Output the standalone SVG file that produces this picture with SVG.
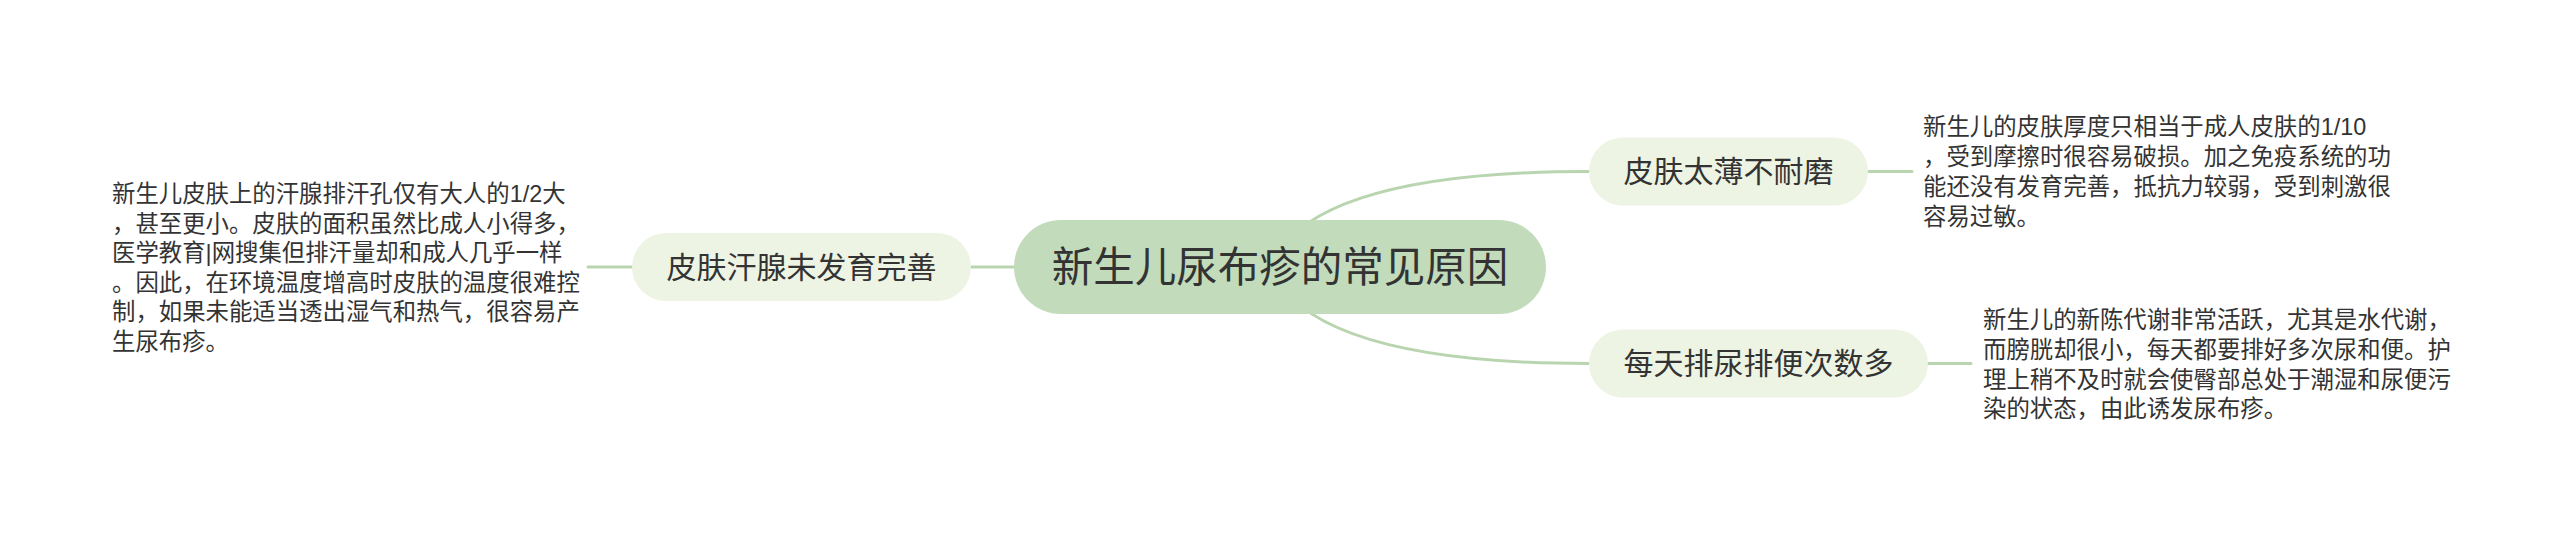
<svg xmlns="http://www.w3.org/2000/svg" width="2560" height="535" viewBox="0 0 2560 535">
<style>
.bg{fill:#ffffff}
.conn{fill:none;stroke:#b9d5b0;stroke-width:3;stroke-linecap:round}
.root{fill:#c1dbbb}
.sub{fill:#eef4e3}
.t{font-family:"Liberation Sans","Noto Sans CJK SC",sans-serif;fill:#333333}
.rt{font-size:41.5px;text-anchor:middle}
.st{font-size:30px;text-anchor:middle}
.dt{font-size:23.4px}
</style>
<rect class="bg" x="0" y="0" width="2560" height="535"/>
<g id="connectors">
<path class="conn" d="M1270 267 Q1310 171.5 1589 171.5"/>
<path class="conn" d="M1270 267 Q1310 363.5 1589 363.5"/>
<path class="conn" d="M960 267 L1030 267"/>
<path class="conn" d="M588 267 L640 267"/>
<path class="conn" d="M1860 171.5 L1912 171.5"/>
<path class="conn" d="M1920 363.5 L1971 363.5"/>
</g>
<g id="root">
<rect class="root" x="1014" y="220" width="532" height="94" rx="47"/>
<text class="t rt" x="1280" y="281.5">新生儿尿布疹的常见原因</text>
</g>
<g id="node-left">
<rect class="sub" x="632" y="233" width="339" height="68" rx="34"/>
<text class="t st" x="801.5" y="277.5">皮肤汗腺未发育完善</text>
</g>
<g id="node-left-detail">
<text class="t dt" x="112" y="202">新生儿皮肤上的汗腺排汗孔仅有大人的1/2大</text>
<text class="t dt" x="112" y="231.5">，甚至更小。皮肤的面积虽然比成人小得多，</text>
<text class="t dt" x="112" y="261">医学教育|网搜集但排汗量却和成人几乎一样</text>
<text class="t dt" x="112" y="290.5">。因此，在环境温度增高时皮肤的温度很难控</text>
<text class="t dt" x="112" y="320">制，如果未能适当透出湿气和热气，很容易产</text>
<text class="t dt" x="112" y="349.5">生尿布疹。</text>
</g>
<g id="node-top">
<rect class="sub" x="1589" y="137.5" width="279" height="68" rx="34"/>
<text class="t st" x="1728.5" y="182">皮肤太薄不耐磨</text>
</g>
<g id="node-top-detail">
<text class="t dt" x="1923" y="135">新生儿的皮肤厚度只相当于成人皮肤的1/10</text>
<text class="t dt" x="1923" y="165">，受到摩擦时很容易破损。加之免疫系统的功</text>
<text class="t dt" x="1923" y="195">能还没有发育完善，抵抗力较弱，受到刺激很</text>
<text class="t dt" x="1923" y="225">容易过敏。</text>
</g>
<g id="node-bottom">
<rect class="sub" x="1589" y="329.5" width="339" height="68" rx="34"/>
<text class="t st" x="1758.5" y="374">每天排尿排便次数多</text>
</g>
<g id="node-bottom-detail">
<text class="t dt" x="1983" y="328">新生儿的新陈代谢非常活跃，尤其是水代谢，</text>
<text class="t dt" x="1983" y="358">而膀胱却很小，每天都要排好多次尿和便。护</text>
<text class="t dt" x="1983" y="387.5">理上稍不及时就会使臀部总处于潮湿和尿便污</text>
<text class="t dt" x="1983" y="417">染的状态，由此诱发尿布疹。</text>
</g>
</svg>
